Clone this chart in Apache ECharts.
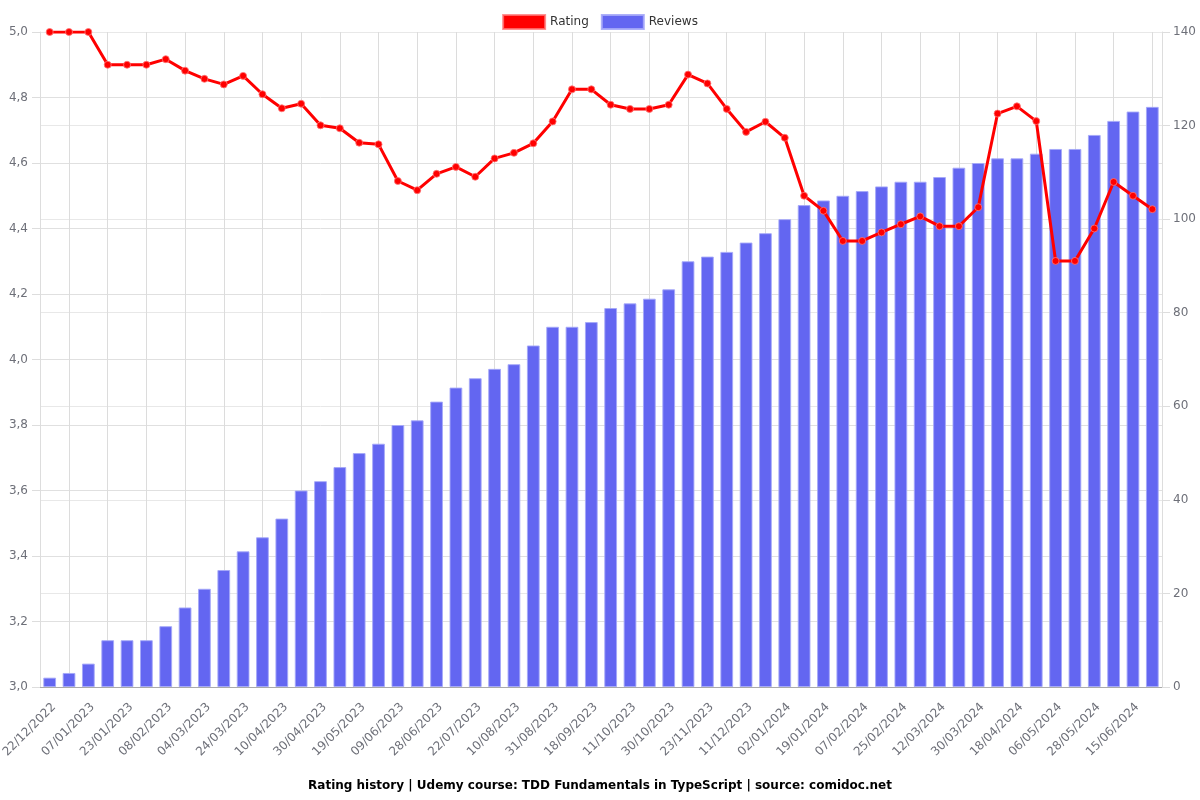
<!DOCTYPE html>
<html>
<head>
<meta charset="utf-8">
<script src="https://cdn.jsdelivr.net/npm/echarts@6/dist/echarts.min.js"></script>
<style>html,body{margin:0;padding:0;background:#fff}#c{width:1200px;height:800px}</style>
</head>
<body>
<div id="c"></div>
<script>
const categories = [
  '22/12/2022','30/12/2022','07/01/2023','15/01/2023','23/01/2023','31/01/2023','08/02/2023','20/02/2023',
  '04/03/2023','14/03/2023','24/03/2023','01/04/2023','10/04/2023','20/04/2023','30/04/2023','10/05/2023',
  '19/05/2023','29/05/2023','09/06/2023','18/06/2023','28/06/2023','10/07/2023','22/07/2023','01/08/2023',
  '10/08/2023','20/08/2023','31/08/2023','09/09/2023','18/09/2023','29/09/2023','11/10/2023','20/10/2023',
  '30/10/2023','11/11/2023','23/11/2023','01/12/2023','11/12/2023','22/12/2023','02/01/2024','10/01/2024',
  '19/01/2024','28/01/2024','07/02/2024','16/02/2024','25/02/2024','04/03/2024','12/03/2024','21/03/2024',
  '30/03/2024','09/04/2024','18/04/2024','27/04/2024','06/05/2024','17/05/2024','28/05/2024','06/06/2024',
  '15/06/2024','24/06/2024'
];
const rating = [
  5.00,5.00,5.00,4.90,4.90,4.90,4.917,4.882,4.857,4.840,4.866,4.810,4.767,4.781,4.715,4.706,
  4.662,4.657,4.545,4.517,4.567,4.588,4.558,4.614,4.631,4.660,4.727,4.825,4.825,4.778,4.765,4.765,
  4.778,4.870,4.843,4.765,4.695,4.726,4.677,4.500,4.454,4.362,4.362,4.388,4.413,4.437,4.407,4.407,
  4.465,4.751,4.773,4.728,4.301,4.301,4.400,4.542,4.500,4.459
];
const reviews = [
  2,3,5,10,10,10,13,17,21,25,29,32,36,42,44,47,
  50,52,56,57,61,64,66,68,69,73,77,77,78,81,82,83,
  85,91,92,93,95,97,100,103,104,105,106,107,108,108,109,111,
  112,113,113,114,115,115,118,121,123,124
];
const ratingTicks = {min: 3, max: 5, interval: 0.2};
const reviewTicks = {min: 0, max: 140, interval: 20};
const titleText = 'Rating history | Udemy course: TDD Fundamentals in TypeScript | source: comidoc.net';

const FONT = 'DejaVu Sans';
const chart = echarts.init(document.getElementById('c'));
const oddIdx = (i) => i % 2 === 1;
chart.setOption({
  animation: false,
  textStyle: {fontFamily: FONT},
  title: {
    text: titleText, left: 'center', top: 775,
    textStyle: {fontSize: 12, fontWeight: 'bold', color: '#000', fontFamily: FONT}
  },
  legend: {
    top: 9, left: 'center', itemWidth: 42, itemHeight: 14, itemGap: 12,
    textStyle: {fontSize: 12, color: '#333', fontFamily: FONT},
    data: [{name: 'Rating', icon: 'rect'}, {name: 'Reviews', icon: 'rect'}]
  },
  grid: {left: 40, right: 38, top: 32, bottom: 113, outerBoundsMode: 'none', containLabel: false},
  xAxis: {
    type: 'category', data: categories, boundaryGap: true,
    axisLine: {lineStyle: {color: '#aaa'}},
    axisTick: {alignWithLabel: true, interval: oddIdx, lineStyle: {color: '#ccc'}},
    axisLabel: {rotate: 45, interval: 1, color: '#6e7079', fontSize: 12, margin: 14, verticalAlign: 'top', fontFamily: FONT},
    splitLine: {show: true, alignWithLabel: true, interval: oddIdx, lineStyle: {color: '#dcdcdc'}}
  },
  yAxis: [
    {
      type: 'value', position: 'left', min: ratingTicks.min, max: ratingTicks.max, interval: ratingTicks.interval,
      axisLine: {show: true, lineStyle: {color: '#ddd'}},
      axisTick: {show: true, length: 8, lineStyle: {color: '#ddd'}},
      axisLabel: {color: '#6e7079', fontSize: 12, margin: 12, fontFamily: FONT, formatter: v => v.toFixed(1).replace('.', ',')},
      splitLine: {lineStyle: {color: '#e0e0e0'}}
    },
    {
      type: 'value', position: 'right', min: reviewTicks.min, max: reviewTicks.max, interval: reviewTicks.interval,
      axisLine: {show: true, lineStyle: {color: '#ddd'}},
      axisTick: {show: true, length: 8, lineStyle: {color: '#ddd'}},
      axisLabel: {color: '#6e7079', fontSize: 12, margin: 11, fontFamily: FONT},
      splitLine: {lineStyle: {color: '#e8e8e8'}}
    }
  ],
  series: [
    {
      name: 'Rating', type: 'line', yAxisIndex: 0, data: rating, z: 3,
      symbol: 'circle', symbolSize: 7,
      lineStyle: {color: '#ff0000', width: 3},
      itemStyle: {color: '#ff0000', borderColor: 'rgba(255,120,120,0.8)', borderWidth: 1}
    },
    {
      name: 'Reviews', type: 'bar', yAxisIndex: 1, data: reviews, z: 2,
      barWidth: '66%',
      itemStyle: {color: '#6366f1', borderColor: 'rgba(165,168,248,0.9)', borderWidth: 1}
    }
  ]
});
</script>
</body>
</html>
